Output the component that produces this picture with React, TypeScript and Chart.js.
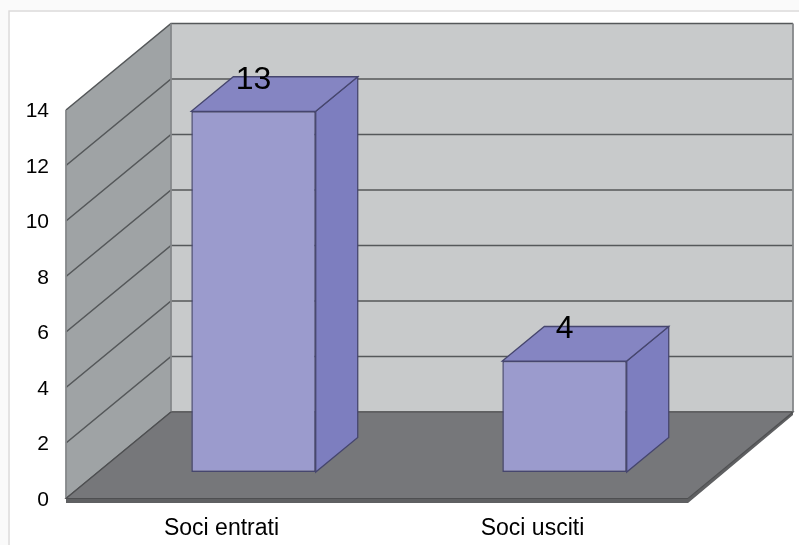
import React, { useEffect, useRef } from "react";
import { Chart, registerables } from "chart.js";

Chart.register(...registerables);

const categories = ["Soci entrati", "Soci usciti"];
const values = [13, 4];
const axisMax = 14;
const axisStep = 2;

const WALL_DX = 105;
const WALL_DY = -86.5;
const BAR_FRONT = 0.305; // share of the floor depth in front of the bars
const BAR_DEPTH = 0.4; // share of the floor depth taken by each bar

const FONT = '"Liberation Sans", Arial, sans-serif';

function poly(ctx: CanvasRenderingContext2D, pts: number[][], fill: string | null, stroke: string | null, lw = 1) {
  ctx.beginPath();
  pts.forEach((p, i) => (i ? ctx.lineTo(p[0], p[1]) : ctx.moveTo(p[0], p[1])));
  ctx.closePath();
  if (fill) {
    ctx.fillStyle = fill;
    ctx.fill();
  }
  if (stroke) {
    ctx.strokeStyle = stroke;
    ctx.lineWidth = lw;
    ctx.stroke();
  }
}

const scene3d = {
  id: "scene3d",
  beforeDraw(chart: any) {
    const { ctx, scales, width, height } = chart;
    const { left, right } = chart.chartArea;
    const y = scales.y;
    const y0 = y.getPixelForValue(0);
    const yT = y.getPixelForValue(axisMax);
    ctx.save();
    ctx.fillStyle = "#ffffff";
    ctx.fillRect(0, 0, width, height);
    ctx.fillStyle = "#fafafa";
    ctx.fillRect(0, 0, width, 10);
    ctx.fillRect(0, 0, 8, height);
    // page frame
    ctx.strokeStyle = "#dcdada";
    ctx.lineWidth = 1.5;
    ctx.beginPath();
    ctx.moveTo(9, height);
    ctx.lineTo(9, 11);
    ctx.lineTo(width, 11);
    ctx.stroke();
    // back wall
    poly(
      ctx,
      [
        [left + WALL_DX, yT + WALL_DY],
        [right + WALL_DX, yT + WALL_DY],
        [right + WALL_DX, y0 + WALL_DY],
        [left + WALL_DX, y0 + WALL_DY],
      ],
      "#c8cacb",
      null
    );
    // left wall
    poly(
      ctx,
      [
        [left, yT],
        [left + WALL_DX, yT + WALL_DY],
        [left + WALL_DX, y0 + WALL_DY],
        [left, y0],
      ],
      "#9fa3a5",
      null
    );
    // grid lines on both walls
    ctx.strokeStyle = "#55585a";
    ctx.lineWidth = 1.6;
    y.ticks.forEach((t: any) => {
      const p = y.getPixelForValue(t.value);
      ctx.beginPath();
      ctx.moveTo(left, p);
      ctx.lineTo(left + WALL_DX, p + WALL_DY);
      ctx.lineTo(right + WALL_DX, p + WALL_DY);
      ctx.stroke();
    });
    // wall edges
    ctx.strokeStyle = "#85888a";
    ctx.lineWidth = 1.8;
    ctx.beginPath();
    ctx.moveTo(left, y0);
    ctx.lineTo(left, yT);
    ctx.moveTo(left + WALL_DX, yT + WALL_DY);
    ctx.lineTo(left + WALL_DX, y0 + WALL_DY);
    ctx.moveTo(right + WALL_DX, yT + WALL_DY);
    ctx.lineTo(right + WALL_DX, y0 + WALL_DY);
    ctx.stroke();
    // floor thickness
    poly(
      ctx,
      [
        [left, y0],
        [right, y0],
        [right + WALL_DX, y0 + WALL_DY],
        [right + WALL_DX, y0 + WALL_DY + 3],
        [right, y0 + 4.5],
        [left, y0 + 4.5],
      ],
      "#5f6062",
      null
    );
    // floor
    poly(
      ctx,
      [
        [left, y0],
        [left + WALL_DX, y0 + WALL_DY],
        [right + WALL_DX, y0 + WALL_DY],
        [right, y0],
      ],
      "#76777a",
      "#4e4f51",
      1.2
    );
    ctx.restore();
  },
  beforeDatasetsDraw(chart: any) {
    const { ctx } = chart;
    ctx.save();
    ctx.translate(WALL_DX * BAR_FRONT, WALL_DY * BAR_FRONT);
    const dx = WALL_DX * BAR_DEPTH;
    const dy = WALL_DY * BAR_DEPTH;
    chart.getDatasetMeta(0).data.forEach((b: any) => {
      const l = b.x - b.width / 2;
      const r = b.x + b.width / 2;
      poly(ctx, [[r, b.y], [r + dx, b.y + dy], [r + dx, b.base + dy], [r, b.base]], "#7d7ebf", "#46466e", 1.3);
      poly(ctx, [[l, b.y], [l + dx, b.y + dy], [r + dx, b.y + dy], [r, b.y]], "#8585c2", "#46466e", 1.3);
    });
  },
  afterDatasetsDraw(chart: any) {
    const { ctx } = chart;
    ctx.restore();
    ctx.save();
    ctx.fillStyle = "#000000";
    ctx.font = `32px ${FONT}`;
    ctx.textAlign = "center";
    ctx.textBaseline = "middle";
    chart.getDatasetMeta(0).data.forEach((b: any, i: number) => {
      ctx.fillText(
        String(values[i]),
        b.x + WALL_DX * BAR_FRONT,
        b.y + WALL_DY * (BAR_FRONT + BAR_DEPTH) + 3
      );
    });
    ctx.restore();
  },
};

export default function App() {
  const ref = useRef<HTMLCanvasElement | null>(null);
  useEffect(() => {
    const chart = new Chart(ref.current as HTMLCanvasElement, {
      type: "bar",
      data: {
        labels: categories,
        datasets: [
          {
            data: values,
            backgroundColor: "#9b9bcd",
            borderColor: "#46466e",
            borderWidth: 1.5,
            borderSkipped: false,
            barPercentage: 0.4,
            categoryPercentage: 1,
          },
        ],
      },
      options: {
        responsive: false,
        animation: false,
        layout: { padding: { left: 0, top: 110, right: 111, bottom: 0 } },
        plugins: { legend: { display: false }, tooltip: { enabled: false } },
        scales: {
          x: {
            grid: { display: false },
            border: { display: false },
            ticks: {
              color: "#000000",
              font: { family: FONT, size: 23 },
              padding: 8,
              maxRotation: 0,
            },
            afterFit: (s: any) => {
              s.height = 46.5;
            },
          },
          y: {
            min: 0,
            max: axisMax,
            grid: { display: false, drawTicks: false },
            border: { display: false },
            ticks: {
              stepSize: axisStep,
              color: "#000000",
              font: { family: FONT, size: 21 },
              padding: 17,
              labelOffset: 1.5,
            },
            afterFit: (s: any) => {
              s.width = 66;
            },
          },
        },
      },
      plugins: [scene3d],
    } as any);
    return () => chart.destroy();
  }, []);
  return (
    <div style={{ position: "absolute", left: 0, top: 0, width: 799, height: 545, overflow: "hidden" }}>
      <canvas ref={ref} width={799} height={545} style={{ display: "block", filter: "blur(0.6px)" }} />
    </div>
  );
}
